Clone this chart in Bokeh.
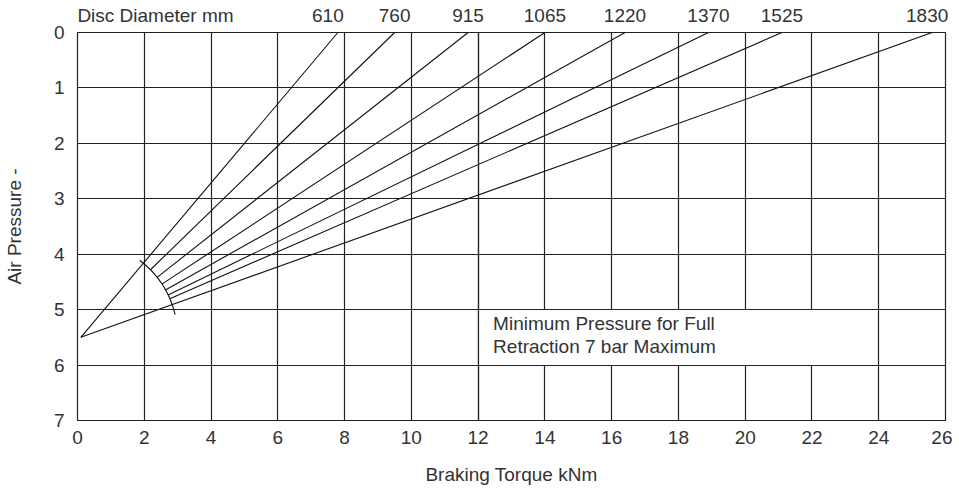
import math
from bokeh.plotting import figure
from bokeh.models import (Range1d, FixedTicker, Grid, Label, LinearAxis,
                          ColumnDataSource)
from bokeh.embed import file_html
from bokeh.resources import INLINE

# ---------------- data ----------------
diameters = ["610", "760", "915", "1065", "1220", "1370", "1525", "1830"]
torque_at_zero_pressure = [7.8, 9.5, 11.7, 14.0, 16.4, 18.9, 21.1, 25.6]
diameter_label_torque = [7.5, 9.5, 11.7, 14.0, 16.4, 18.9, 21.1, 25.45]
full_length_lines = ["610", "1830"]
origin_torque = 0.1
origin_pressure = 5.5
x_ticks = list(range(0, 27, 2))
y_ticks = list(range(0, 8))
arc_start_deg = 13.6
arc_end_deg = 52.6
note_text = "Minimum Pressure for Full\nRetraction 7 bar Maximum"
note_left, note_right, note_top, note_bottom = 12, 22.35, 5, 6

# ---------------- style ----------------
FONT = "Liberation Sans"
INK = "#222222"
TXT = "#333333"
FS = "19px"
FW, FH = 868, 388
ARC_R = 97  # screen px
sx = FW / 26.0
sy = FH / 7.0

p = figure(frame_width=FW, frame_height=FH,
           x_range=Range1d(0, 26), y_range=Range1d(7, 0),
           output_backend="svg", toolbar_location=None,
           min_border_left=76, min_border_right=7,
           min_border_top=32, min_border_bottom=60)
p.background_fill_color = "white"
p.border_fill_color = "white"
p.outline_line_color = INK
p.outline_line_width = 1.2
p.outline_line_alpha = 1


def style_axis(ax):
    ax.axis_line_color = None
    ax.major_tick_line_color = None
    ax.minor_tick_line_color = None
    ax.major_tick_out = 0
    ax.major_tick_in = 0
    ax.major_label_text_font = FONT
    ax.major_label_text_font_size = FS
    ax.major_label_text_color = TXT
    ax.axis_label_text_font = FONT
    ax.axis_label_text_font_size = FS
    ax.axis_label_text_font_style = "normal"
    ax.axis_label_text_color = TXT


p.xaxis.ticker = FixedTicker(ticks=x_ticks)
p.yaxis.ticker = FixedTicker(ticks=y_ticks)
style_axis(p.xaxis[0])
style_axis(p.yaxis[0])
p.xaxis.major_label_standoff = 10
p.yaxis.major_label_standoff = 13
p.xaxis.axis_label = "Braking Torque kNm"
p.xaxis.axis_label_standoff = 17
p.yaxis.axis_label = "Air Pressure -"
p.yaxis.axis_label_standoff = 26

# top axis: disc diameters
disc_title = "Disc Diameter mm"
disc_title_x = 78 / sx  # centre of the title so that it starts at the frame edge
top_ticks = diameter_label_torque + [disc_title_x]
overrides = {t: d for t, d in zip(diameter_label_torque, diameters)}
overrides[disc_title_x] = disc_title
top_axis = LinearAxis(ticker=FixedTicker(ticks=top_ticks),
                      major_label_overrides=overrides)
style_axis(top_axis)
top_axis.major_label_standoff = 7
p.add_layout(top_axis, "above")

p.xgrid.ticker = FixedTicker(ticks=x_ticks)
p.ygrid.ticker = FixedTicker(ticks=y_ticks)
for g in (p.xgrid[0], p.ygrid[0]):
    g.grid_line_color = INK
    g.grid_line_width = 1.2
    g.grid_line_alpha = 1

# ---------------- radiating lines ----------------
x0s, y0s, x1s, y1s = [], [], [], []
for d, xe in zip(diameters, torque_at_zero_pressure):
    dxp = (xe - origin_torque) * sx
    dyp = origin_pressure * sy
    L = math.hypot(dxp, dyp)
    f = 0.0 if d in full_length_lines else ARC_R / L
    x0s.append(origin_torque + f * (xe - origin_torque))
    y0s.append(origin_pressure - f * origin_pressure)
    x1s.append(xe)
    y1s.append(0)
src = ColumnDataSource(dict(x0=x0s, y0=y0s, x1=x1s, y1=y1s, d=diameters))
p.segment(x0="x0", y0="y0", x1="x1", y1="y1", source=src,
          line_color="#111111", line_width=1.1)

p.arc(x=[origin_torque], y=[origin_pressure], radius=ARC_R,
      radius_units="screen", start_angle=math.radians(arc_start_deg),
      end_angle=math.radians(arc_end_deg), line_color="#111111",
      line_width=1.1)

# ---------------- note box ----------------
p.quad(left=[note_left], right=[note_right], top=[note_top],
       bottom=[note_bottom], fill_color="white", line_color=None)
p.add_layout(Grid(dimension=1, ticker=FixedTicker(ticks=[note_top, note_bottom]),
                  grid_line_color=INK, grid_line_width=1.2, level="annotation"))
p.add_layout(Grid(dimension=0, ticker=FixedTicker(ticks=[note_left]),
                  grid_line_color=INK, grid_line_width=1.2, level="annotation"))
p.add_layout(Label(x=note_left, y=note_top, x_offset=15, y_offset=-3,
                   text=note_text, text_font=FONT, text_font_size=FS,
                   text_color=TXT, text_align="left", text_baseline="top",
                   text_line_height=1.1))

open("out.html", "w").write(file_html(p, INLINE))
